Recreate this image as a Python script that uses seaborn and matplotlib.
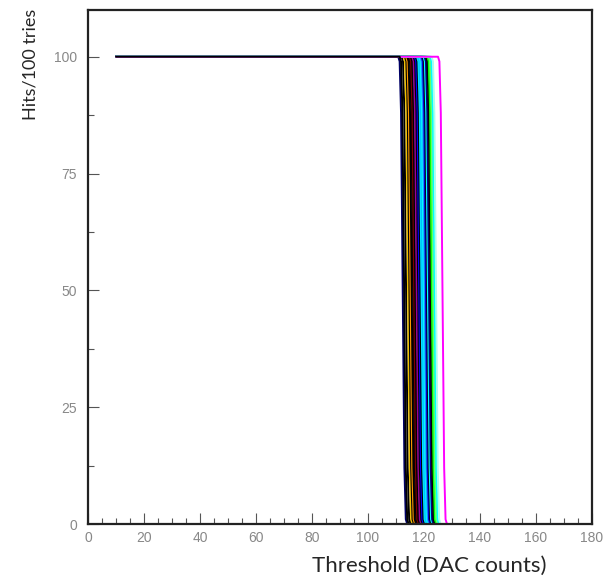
import numpy as np
import pandas as pd
import matplotlib
matplotlib.use("Agg")
import matplotlib.pyplot as plt
import seaborn as sns
from matplotlib.ticker import MultipleLocator

# ---- data ----
scan_start = 10                      # first threshold value of every scan (DAC)
# shared S-curve shape around each pixel's threshold (offset in DAC, hits)
profile_dx = [-1.6, -1.1, -0.6, 0.0, 0.6, 1.1, 1.6]
profile_hits = [100, 99, 88, 50, 12, 1, 0]

# per-pixel 50% threshold (DAC counts) and drawing colour
curve_threshold = [112.4, 113.6, 114.3, 114.8, 115.2, 115.6, 116.1, 116.5,
                   116.9, 117.4, 117.9, 118.3, 118.7, 119.1, 119.5, 119.9,
                   120.3, 120.7, 121.1, 121.4, 121.8, 122.3, 122.8, 123.3,
                   123.8, 124.3, 126.6, 112.9]
curve_color = ["#000066", "#000000", "#f0c000", "#000000", "#ff9900", "#000000",
               "#000000", "#800000", "#000000", "#990099", "#000000", "#0000ff",
               "#000000", "#00e5ff", "#00bfff", "#00ffff", "#1e90ff", "#0000cc",
               "#000000", "#00ffff", "#000080", "#000000", "#00ff00", "#66ff66",
               "#00ffff", "#aaffee", "#ff00ff", "#000000"]

x_ticks = [0, 20, 40, 60, 80, 100, 120, 140, 160, 180]
y_ticks = [0, 25, 50, 75, 100]

# ---- build long table ----
rows = []
for i, t in enumerate(curve_threshold):
    rows.append((i, scan_start, 100))
    for dx, h in zip(profile_dx, profile_hits):
        rows.append((i, t + dx, h))
df = pd.DataFrame(rows, columns=["curve", "threshold", "hits"])

sns.set_style("white")
plt.rcParams["font.family"] = ["Liberation Sans", "DejaVu Sans"]

fig = plt.figure(figsize=(6.11, 5.81), dpi=100)
ax = fig.add_axes([88 / 611, 1 - 524 / 581, (592 - 88) / 611, (524 - 10) / 581])

sns.lineplot(data=df, x="threshold", y="hits", hue="curve", units="curve",
             estimator=None, sort=False, palette=curve_color, legend=False,
             linewidth=1.4, ax=ax)

ax.set_xlim(0, 180)
ax.set_ylim(0, 110)
ax.set_xticks(x_ticks)
ax.set_yticks(y_ticks)
ax.xaxis.set_minor_locator(MultipleLocator(5))
ax.yaxis.set_minor_locator(MultipleLocator(12.5))
ax.tick_params(axis="both", which="both", direction="in", bottom=True, left=True,
               top=False, right=False, colors="#555555", labelcolor="#888888",
               labelsize=10)
ax.tick_params(axis="both", which="major", length=8, width=0.8)
ax.tick_params(axis="both", which="minor", length=4, width=0.8)
ax.tick_params(axis="x", pad=5)
ax.tick_params(axis="y", pad=8)
for s in ax.spines.values():
    s.set_color("#222222")
    s.set_linewidth(1.6)
ax.set_xlabel("")
ax.set_ylabel("")

fig.text(31 / 611, 1 - 64 / 581, "Hits/100 tries", rotation=90, ha="center",
         va="center", fontsize=13, family=["Lato", "DejaVu Sans"])
fig.text(429 / 611, 1 - 566 / 581, "Threshold (DAC counts)", ha="center",
         va="center", fontsize=16, family=["Lato", "DejaVu Sans"])

fig.savefig("out.png", dpi=100)
